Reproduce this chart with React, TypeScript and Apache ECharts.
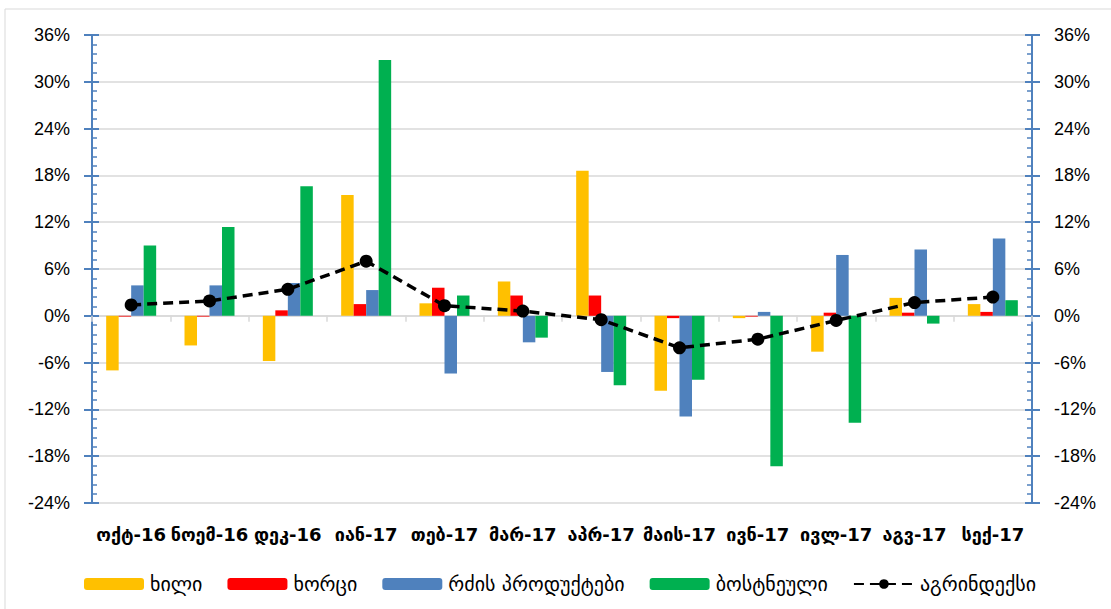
import React, { useEffect, useRef } from "react";
import * as echarts from "echarts";

const categories = ["ოქტ-16", "ნოემ-16", "დეკ-16", "იან-17", "თებ-17", "მარ-17", "აპრ-17", "მაის-17", "ივნ-17", "ივლ-17", "აგვ-17", "სექ-17"];
const seriesNames = ["ხილი", "ხორცი", "რძის პროდუქტები", "ბოსტნეული", "აგრინდექსი"];
const fruit = [-7.0, -3.8, -5.8, 15.5, 1.6, 4.4, 18.6, -9.6, -0.3, -4.6, 2.3, 1.5];
const meat = [-0.1, -0.1, 0.7, 1.5, 3.6, 2.6, 2.6, -0.3, -0.1, 0.4, 0.4, 0.5];
const dairy = [3.9, 3.9, 4.2, 3.3, -7.4, -3.4, -7.2, -12.9, 0.5, 7.8, 8.5, 9.9];
const vegetables = [9.0, 11.4, 16.6, 32.8, 2.6, -2.8, -8.9, -8.2, -19.3, -13.7, -1.0, 2.0];
const agriIndex = [1.4, 1.9, 3.4, 7.0, 1.3, 0.6, -0.5, -4.1, -3.0, -0.6, 1.7, 2.4];
const yMin = -24;
const yMax = 36;
const yInterval = 6;

const colors = ["#FFC000", "#FF0000", "#4F81BD", "#00B050", "#000000"];
const axisBlue = "#4F81BD";
const gridGray = "#D9D9D9";
const numFont = "'Liberation Sans', Arial, sans-serif";
const geoFont = "'DejaVu Sans', 'Noto Sans', sans-serif";

export default function App() {
  const ref = useRef<HTMLDivElement>(null);
  useEffect(() => {
    if (!ref.current) return;
    const chart = echarts.init(ref.current, null, { renderer: "svg" });
    const yBase = {
      type: "value",
      min: yMin,
      max: yMax,
      interval: yInterval,
    };
    const labelYAxis = (position: string) => ({
      ...yBase,
      position,
      axisLine: { show: true, lineStyle: { color: axisBlue, width: 2 } },
      axisTick: { show: true, inside: false, length: 8, lineStyle: { color: axisBlue, width: 2 } },
      minorTick: { show: false },
      axisLabel: {
        show: true,
        margin: 22,
        color: "#000",
        fontSize: 18,
        fontFamily: numFont,
        formatter: (v: number) => `${v}%`,
      },
      splitLine: { show: position === "left", lineStyle: { color: gridGray, width: 1.5 } },
    });
    const innerYAxis = (position: string) => ({
      ...yBase,
      position,
      axisLine: { show: false },
      axisTick: { show: true, inside: true, length: 7, lineStyle: { color: axisBlue, width: 2 } },
      minorTick: { show: true, splitNumber: 5, length: 5, lineStyle: { color: axisBlue, width: 1.5 } },
      axisLabel: { show: false },
      splitLine: { show: false },
    });
    const barSeries = [fruit, meat, dairy, vegetables].map((d, i) => ({
      name: seriesNames[i],
      type: "bar",
      data: d,
      xAxisIndex: 0,
      yAxisIndex: 0,
      barWidth: 12.5,
      barGap: "0%",
      itemStyle: { color: colors[i] },
    }));
    chart.setOption({
      animation: false,
      backgroundColor: "#fff",
      graphic: [
        {
          type: "rect",
          shape: { x: 5, y: 9, width: 1200, height: 700 },
          style: { fill: "none", stroke: gridGray, lineWidth: 1 },
          silent: true,
          z: -10,
        },
      ],
      grid: { left: 92, right: 79, top: 35, bottom: 106, containLabel: false },
      legend: {
        left: 79,
        top: 569,
        itemWidth: 60,
        itemHeight: 12,
        itemGap: 25,
        textStyle: { fontSize: 20, fontFamily: geoFont, color: "#000", padding: [0, 0, 0, 1] },
        data: seriesNames,
      },
      xAxis: [
        {
          type: "category",
          data: categories,
          position: "bottom",
          axisLine: { show: true, onZero: true, lineStyle: { color: gridGray, width: 1.5 } },
          axisTick: { show: true, length: 6, lineStyle: { color: gridGray, width: 1.5 } },
          axisLabel: { show: false },
        },
        {
          type: "category",
          data: categories,
          position: "bottom",
          axisLine: { show: false, onZero: false },
          axisTick: { show: false },
          axisLabel: {
            show: true,
            interval: 0,
            margin: 22,
            color: "#000",
            fontSize: 18,
            fontWeight: "bold",
            fontFamily: geoFont,
          },
        },
      ],
      yAxis: [labelYAxis("left"), innerYAxis("left"), labelYAxis("right"), innerYAxis("right")],
      series: [
        ...barSeries,
        {
          name: seriesNames[4],
          type: "line",
          data: agriIndex,
          xAxisIndex: 0,
          yAxisIndex: 2,
          symbol: "circle",
          symbolSize: 13,
          z: 5,
          itemStyle: { color: colors[4] },
          lineStyle: { color: colors[4], width: 3.5, type: [10, 6] },
        },
      ],
    });
    return () => chart.dispose();
  }, []);
  return (
    <div
      ref={ref}
      style={{ position: "absolute", left: 0, top: 0, width: 1111, height: 609 }}
    />
  );
}
